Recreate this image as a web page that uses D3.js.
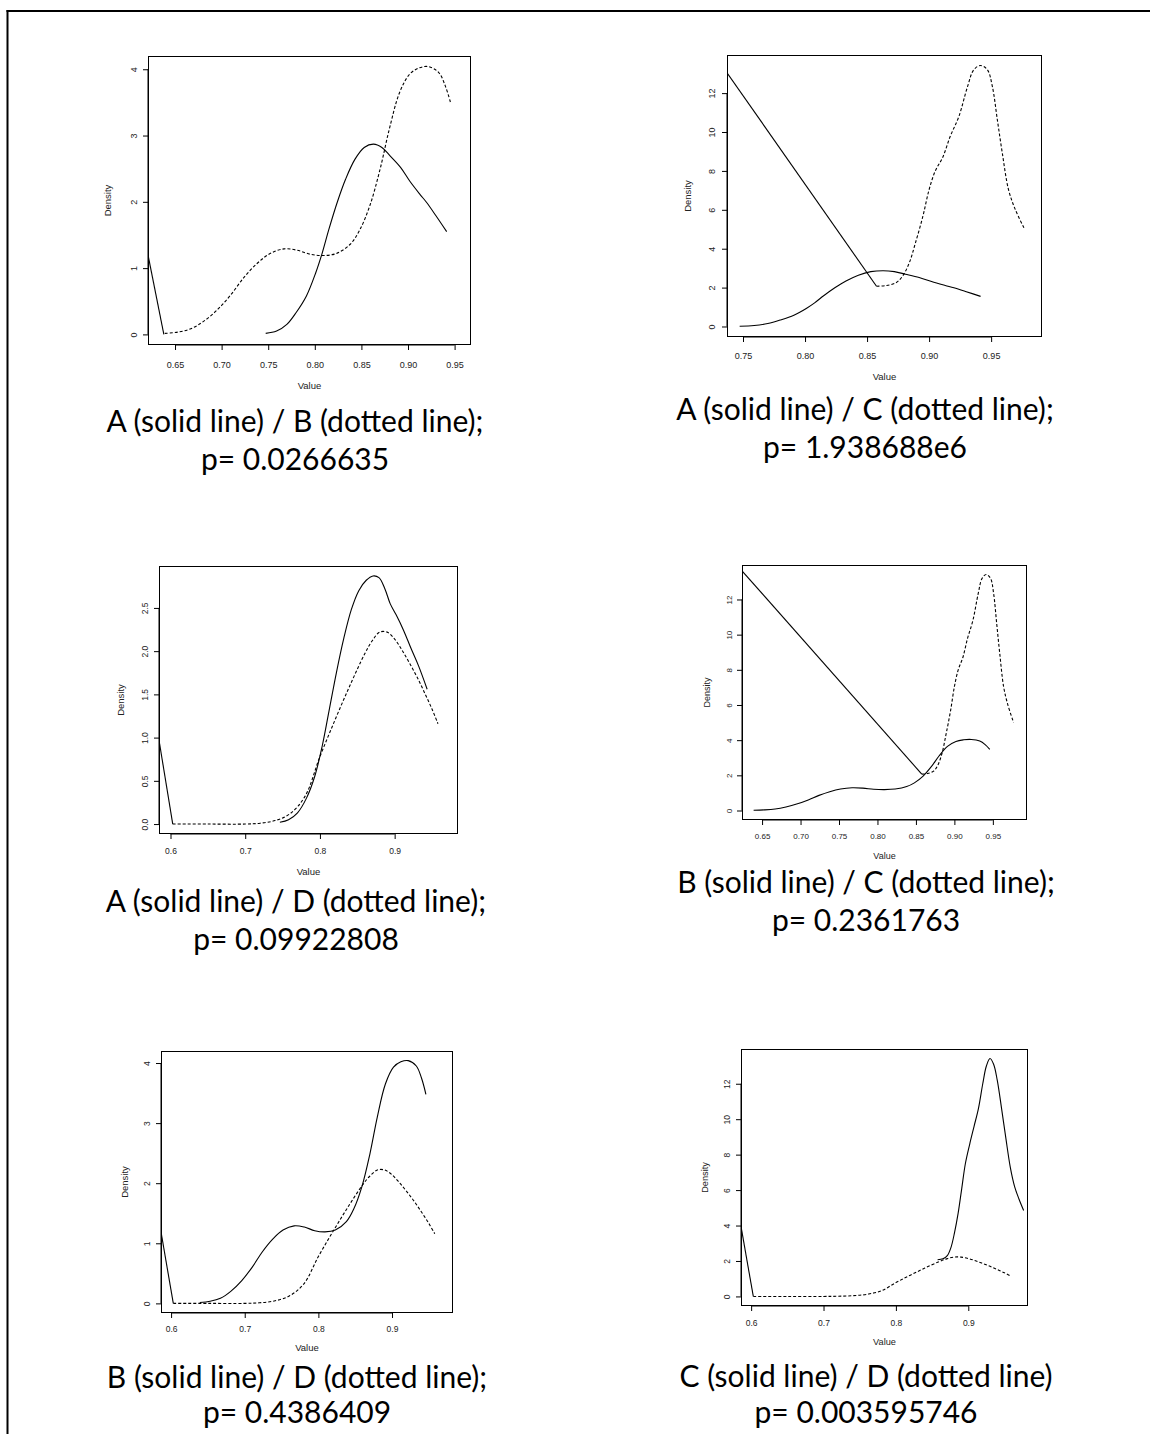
<!DOCTYPE html>
<html>
<head>
<meta charset="utf-8">
<script src="https://cdn.jsdelivr.net/npm/d3@7"></script>
<style>
  html, body { margin: 0; padding: 0; background: #fff; }
  svg { display: block; }
</style>
</head>
<body>
<svg id="chart" width="1150" height="1434"></svg>
<script>
// ---------------- DATA ----------------
// density curves: [value, density]
const curveA = [[0.7473,0.015],[0.759,0.05],[0.770,0.15],[0.780,0.33],[0.791,0.58],[0.801,0.93],[0.808,1.23],[0.815,1.58],[0.824,1.99],[0.833,2.34],[0.843,2.64],[0.853,2.82],[0.863,2.87],[0.872,2.82],[0.881,2.69],[0.892,2.52],[0.902,2.31],[0.913,2.11],[0.920,1.99],[0.930,1.79],[0.9415,1.55]];
const curveA_p3 = [[0.7464,0.02],[0.758,0.05],[0.770,0.13],[0.782,0.3],[0.793,0.55],[0.803,0.9],[0.812,1.3],[0.822,1.75],[0.832,2.15],[0.842,2.48],[0.852,2.7],[0.862,2.82],[0.871,2.87],[0.879,2.85],[0.887,2.72],[0.894,2.55],[0.902,2.42],[0.912,2.24],[0.922,2.03],[0.932,1.83],[0.9435,1.56]];
const curveB = [[0.639,0.015],[0.653,0.035],[0.667,0.085],[0.681,0.2],[0.696,0.38],[0.710,0.6],[0.724,0.86],[0.738,1.07],[0.752,1.22],[0.767,1.29],[0.781,1.27],[0.795,1.21],[0.809,1.19],[0.823,1.22],[0.838,1.36],[0.848,1.57],[0.859,1.94],[0.870,2.49],[0.880,3.1],[0.891,3.65],[0.902,3.93],[0.912,4.02],[0.922,4.04],[0.933,3.95],[0.940,3.75],[0.946,3.48]];
const curveC = [[0.8576,2.07],[0.865,2.1],[0.873,2.24],[0.8785,2.58],[0.884,3.27],[0.889,4.3],[0.895,5.67],[0.900,7.04],[0.905,8.0],[0.911,8.7],[0.917,9.77],[0.924,10.8],[0.931,12.34],[0.936,13.2],[0.9414,13.42],[0.947,13.2],[0.951,12.34],[0.955,10.63],[0.959,8.92],[0.964,7.04],[0.9695,6.01],[0.977,5.0]];
const curveC_p6 = [[0.8576,2.07],[0.865,2.12],[0.871,2.3],[0.876,2.75],[0.881,3.6],[0.886,4.7],[0.891,6.1],[0.896,7.5],[0.902,8.6],[0.908,9.6],[0.914,10.6],[0.920,12.0],[0.925,13.0],[0.930,13.42],[0.935,13.1],[0.940,12.2],[0.946,10.6],[0.952,8.9],[0.958,7.3],[0.964,6.2],[0.970,5.5],[0.9765,4.85]];
const curveD = [[0.603,0],[0.65,0],[0.70,0],[0.72,0.01],[0.74,0.04],[0.76,0.12],[0.78,0.32],[0.80,0.78],[0.82,1.2],[0.84,1.6],[0.86,1.97],[0.87,2.12],[0.88,2.22],[0.89,2.22],[0.90,2.14],[0.91,2.01],[0.92,1.86],[0.93,1.7],[0.94,1.52],[0.95,1.33],[0.958,1.16]];

// straight solid segments running in from the left edge of each plot
const strayLines = [
  [[0.621,1.2],[0.638,0]],
  [[0.7371,13.05],[0.8576,2.07]],
  [[0.5846,0.97],[0.603,0]],
  [[0.6239,13.63],[0.8576,2.07]],
  [[0.5863,1.19],[0.603,0]],
  [[0.586,3.95],[0.603,0]]
];

// solid / dotted curve of each panel
const solidCurves  = [curveA, curveA, curveA_p3, curveB, curveB, curveC_p6];
const dottedCurves = [curveB, curveC, curveD, curveC, curveD, curveD];

// axis domains
const xDomains = [[0.621,0.9676],[0.7371,0.991],[0.5846,0.9848],[0.6239,0.9944],[0.5863,0.9828],[0.586,0.9825]];
const yDomains = [[-0.16,4.2],[-0.54,13.96],[-0.115,2.985],[-0.54,13.96],[-0.16,4.2],[-0.54,13.96]];

// tick values and labels
const xTicks = [
  [0.65,0.70,0.75,0.80,0.85,0.90,0.95],
  [0.75,0.80,0.85,0.90,0.95],
  [0.6,0.7,0.8,0.9],
  [0.65,0.70,0.75,0.80,0.85,0.90,0.95],
  [0.6,0.7,0.8,0.9],
  [0.6,0.7,0.8,0.9]
];
const xTickLabels = [
  ["0.65","0.70","0.75","0.80","0.85","0.90","0.95"],
  ["0.75","0.80","0.85","0.90","0.95"],
  ["0.6","0.7","0.8","0.9"],
  ["0.65","0.70","0.75","0.80","0.85","0.90","0.95"],
  ["0.6","0.7","0.8","0.9"],
  ["0.6","0.7","0.8","0.9"]
];
const yTicks = [
  [0,1,2,3,4],
  [0,2,4,6,8,10,12],
  [0,0.5,1,1.5,2,2.5],
  [0,2,4,6,8,10,12],
  [0,1,2,3,4],
  [0,2,4,6,8,10,12]
];
const yTickLabels = [
  ["0","1","2","3","4"],
  ["0","2","4","6","8","10","12"],
  ["0.0","0.5","1.0","1.5","2.0","2.5"],
  ["0","2","4","6","8","10","12"],
  ["0","1","2","3","4"],
  ["0","2","4","6","8","10","12"]
];

// captions
const captionLine1 = [
  "A (solid line) / B (dotted line);",
  "A (solid line) / C (dotted line);",
  "A (solid line) / D (dotted line);",
  "B (solid line) / C (dotted line);",
  "B (solid line) / D (dotted line);",
  "C (solid line) / D (dotted line)"
];
const captionLine2 = ["p= 0.0266635","p= 1.938688e6","p= 0.09922808","p= 0.2361763","p= 0.4386409","p= 0.003595746"];

// ---------------- LAYOUT ----------------
const layout = [
  {box:[148,56,471,345],  xl:22.5, yl:-11, dens:-37, val:44, tfs:9,   afs:9.5, cx:295, c1:432, c2:470},
  {box:[727,55,1042,337], xl:21.5, yl:-12, dens:-36, val:43, tfs:9,   afs:9.5, cx:865, c1:420, c2:458},
  {box:[159,566,458,834], xl:19.5, yl:-11, dens:-35, val:41, tfs:8.5, afs:9.5, cx:296, c1:912, c2:950},
  {box:[742,565,1027,820],xl:19, yl:-10, dens:-32, val:39, tfs:8,  afs:9,   cx:866, c1:893, c2:931},
  {box:[161,1051,453,1313],xl:18.5, yl:-11, dens:-33, val:38, tfs:8.5, afs:9.5, cx:297, c1:1388, c2:1423},
  {box:[741,1049,1028,1306],xl:19.5, yl:-11, dens:-33, val:38.5, tfs:8.5, afs:9.2, cx:866, c1:1387, c2:1423}
];

const svg = d3.select("#chart");
const W = 1150, H = 1434;
svg.append("rect").attr("width", W).attr("height", H).attr("fill", "#fff");

// outer frame (top and left rules)
svg.append("line").attr("x1", 6.5).attr("x2", W).attr("y1", 11).attr("y2", 11)
  .attr("stroke", "#000").attr("stroke-width", 2);
svg.append("line").attr("x1", 7.5).attr("x2", 7.5).attr("y1", 10).attr("y2", H)
  .attr("stroke", "#000").attr("stroke-width", 2);

const defs = svg.append("defs");
const font = "'Liberation Sans', Arial, Helvetica, sans-serif";

layout.forEach((L, i) => {
  const [l, t, r, b] = L.box;
  const x = d3.scaleLinear().domain(xDomains[i]).range([l, r]);
  const y = d3.scaleLinear().domain(yDomains[i]).range([b, t]);
  const g = svg.append("g");

  defs.append("clipPath").attr("id", "clip" + i)
    .append("rect").attr("x", l).attr("y", t).attr("width", r - l).attr("height", b - t);

  const line = d3.line().x(d => x(d[0])).y(d => y(d[1])).curve(d3.curveCatmullRom.alpha(0.5));
  const straight = d3.line().x(d => x(d[0])).y(d => y(d[1]));

  const plot = g.append("g").attr("clip-path", `url(#clip${i})`);
  plot.append("path").attr("d", straight(strayLines[i]))
    .attr("fill", "none").attr("stroke", "#000").attr("stroke-width", 1.1);
  plot.append("path").attr("d", line(dottedCurves[i]))
    .attr("fill", "none").attr("stroke", "#000").attr("stroke-width", 1.1)
    .attr("stroke-dasharray", "3,2");
  plot.append("path").attr("d", line(solidCurves[i]))
    .attr("fill", "none").attr("stroke", "#000").attr("stroke-width", 1.1);

  // box
  g.append("rect").attr("x", l + 0.5).attr("y", t + 0.5).attr("width", r - l - 1).attr("height", b - t - 1)
    .attr("fill", "none").attr("stroke", "#000").attr("stroke-width", 1);

  // x axis
  const xa = g.append("g").attr("transform", `translate(0,${b})`)
    .call(d3.axisBottom(x).tickValues(xTicks[i]).tickSize(5).tickSizeOuter(0)
      .tickFormat((d, k) => xTickLabels[i][k]));
  xa.select(".domain").remove();
  xa.append("line").attr("x1", x(xTicks[i][0])).attr("x2", x(xTicks[i][xTicks[i].length - 1]))
    .attr("stroke", "#000");
  xa.selectAll(".tick line").attr("stroke", "#000");
  xa.selectAll(".tick text").attr("y", L.xl).attr("dy", 0)
    .attr("font-family", font).attr("font-size", L.tfs).attr("fill", "#222");

  // y axis
  const ya = g.append("g").attr("transform", `translate(${l},0)`)
    .call(d3.axisLeft(y).tickValues(yTicks[i]).tickSize(5).tickSizeOuter(0)
      .tickFormat((d, k) => yTickLabels[i][k]));
  ya.select(".domain").remove();
  ya.append("line").attr("y1", y(yTicks[i][0])).attr("y2", y(yTicks[i][yTicks[i].length - 1]))
    .attr("stroke", "#000");
  ya.selectAll(".tick line").attr("stroke", "#000");
  ya.selectAll(".tick text")
    .attr("x", 0).attr("y", L.yl).attr("dy", 0)
    .attr("transform", "rotate(-90)")
    .attr("text-anchor", "middle")
    .attr("font-family", font).attr("font-size", L.tfs).attr("fill", "#222");

  // axis titles
  g.append("text").attr("x", (l + r) / 2).attr("y", b + L.val)
    .attr("text-anchor", "middle").attr("font-family", font).attr("font-size", L.afs)
    .attr("fill", "#222").text("Value");
  g.append("text")
    .attr("transform", `translate(${l + L.dens},${(t + b) / 2}) rotate(-90)`)
    .attr("text-anchor", "middle").attr("font-family", font).attr("font-size", L.afs)
    .attr("fill", "#222").text("Density");

  // caption
  g.append("text").attr("x", L.cx).attr("y", L.c1).attr("text-anchor", "middle")
    .attr("font-family", "Lato, 'Open Sans', sans-serif").attr("font-size", 30)
    .attr("fill", "#000").text(captionLine1[i]);
  g.append("text").attr("x", L.cx).attr("y", L.c2).attr("text-anchor", "middle")
    .attr("font-family", "Lato, 'Open Sans', sans-serif").attr("font-size", 30)
    .attr("fill", "#000").text(captionLine2[i]);
});
</script>
</body>
</html>
